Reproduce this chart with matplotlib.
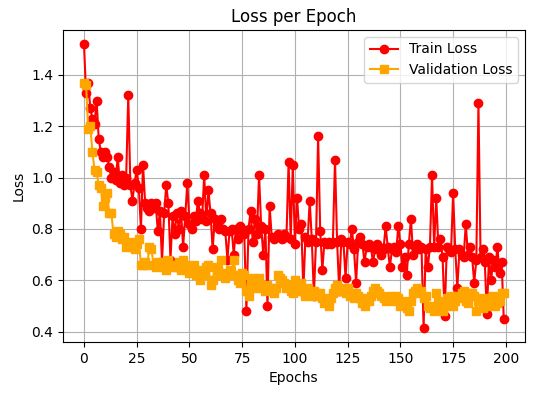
import matplotlib
matplotlib.use("Agg")
import matplotlib.pyplot as plt

epochs = list(range(200))

train_loss = [
    1.52, 1.33, 1.37, 1.27, 1.23, 1.21, 1.30, 1.15, 1.10, 1.08,
    1.10, 1.08, 1.04, 1.00, 1.02, 0.99, 1.08, 0.98, 1.01, 0.97,
    1.00, 1.32, 0.97, 0.91, 0.98, 1.03, 0.96, 0.80, 1.05, 0.90,
    0.88, 0.87, 0.90, 0.88, 0.90, 0.79, 0.87, 0.67, 0.86, 0.97,
    0.90, 0.68, 0.85, 0.78, 0.86, 0.80, 0.87, 0.73, 0.85, 0.98,
    0.82, 0.80, 0.85, 0.83, 0.91, 0.86, 0.84, 1.01, 0.83, 0.95,
    0.86, 0.72, 0.84, 0.81, 0.80, 0.84, 0.80, 0.79, 0.68, 0.79,
    0.80, 0.70, 0.80, 0.76, 0.81, 0.80, 0.78, 0.48, 0.80, 0.87,
    0.75, 0.84, 0.78, 1.01, 0.81, 0.70, 0.80, 0.50, 0.89, 0.77,
    0.76, 0.77, 0.78, 0.77, 0.76, 0.78, 0.77, 1.06, 0.76, 1.05,
    0.74, 0.92, 0.80, 0.82, 0.56, 0.77, 0.75, 0.91, 0.76, 0.54,
    0.75, 1.16, 0.79, 0.64, 0.75, 0.74, 0.75, 0.74, 0.75, 1.07,
    0.75, 0.56, 0.76, 0.75, 0.61, 0.75, 0.74, 0.80, 0.72, 0.59,
    0.75, 0.77, 0.74, 0.67, 0.73, 0.74, 0.73, 0.67, 0.72, 0.74,
    0.73, 0.70, 0.72, 0.81, 0.73, 0.65, 0.72, 0.73, 0.71, 0.81,
    0.74, 0.65, 0.69, 0.62, 0.74, 0.84, 0.70, 0.73, 0.74, 0.72,
    0.73, 0.415, 0.72, 0.65, 0.73, 1.01, 0.73, 0.92, 0.73, 0.76,
    0.69, 0.46, 0.73, 0.72, 0.71, 0.94, 0.72, 0.57, 0.72, 0.70,
    0.69, 0.82, 0.70, 0.73, 0.69, 0.59, 0.68, 1.29, 0.69, 0.72,
    0.67, 0.47, 0.69, 0.60, 0.68, 0.65, 0.73, 0.63, 0.67, 0.45,
]

val_loss = [
    1.37, 1.36, 1.19, 1.20, 1.10, 1.03, 1.02, 0.97, 0.96, 0.89,
    0.92, 0.94, 0.86, 0.86, 0.78, 0.77, 0.79, 0.78, 0.76, 0.77,
    0.73, 0.74, 0.75, 0.73, 0.72, 0.74, 0.76, 0.66, 0.66, 0.67,
    0.66, 0.73, 0.72, 0.66, 0.65, 0.67, 0.66, 0.67, 0.65, 0.64,
    0.68, 0.66, 0.65, 0.66, 0.65, 0.67, 0.64, 0.68, 0.66, 0.65,
    0.63, 0.64, 0.66, 0.62, 0.64, 0.60, 0.63, 0.62, 0.65, 0.66,
    0.58, 0.60, 0.65, 0.64, 0.62, 0.68, 0.62, 0.61, 0.63, 0.64,
    0.62, 0.68, 0.62, 0.60, 0.59, 0.63, 0.62, 0.56, 0.54, 0.59,
    0.61, 0.57, 0.60, 0.61, 0.58, 0.57, 0.56, 0.58, 0.57, 0.56,
    0.55, 0.57, 0.62, 0.61, 0.60, 0.59, 0.57, 0.58, 0.56, 0.55,
    0.60, 0.57, 0.56, 0.59, 0.56, 0.54, 0.57, 0.55, 0.54, 0.56,
    0.55, 0.54, 0.55, 0.53, 0.51, 0.52, 0.50, 0.53, 0.55, 0.57,
    0.58, 0.57, 0.56, 0.56, 0.55, 0.57, 0.54, 0.55, 0.53, 0.55,
    0.54, 0.53, 0.51, 0.50, 0.53, 0.52, 0.54, 0.56, 0.57, 0.56,
    0.55, 0.54, 0.53, 0.52, 0.53, 0.54, 0.53, 0.52, 0.54, 0.53,
    0.50, 0.52, 0.51, 0.49, 0.48, 0.52, 0.55, 0.56, 0.57, 0.55,
    0.56, 0.53, 0.54, 0.50, 0.49, 0.50, 0.48, 0.55, 0.52, 0.49,
    0.48, 0.50, 0.53, 0.52, 0.54, 0.50, 0.52, 0.54, 0.53, 0.55,
    0.56, 0.52, 0.51, 0.55, 0.55, 0.54, 0.48, 0.52, 0.53, 0.49,
    0.51, 0.50, 0.53, 0.52, 0.54, 0.50, 0.51, 0.52, 0.55, 0.55,
]

fig, ax = plt.subplots(figsize=(5.36, 3.93), dpi=100)
fig.subplots_adjust(left=0.1175, right=0.979, top=0.924, bottom=0.13)

ax.plot(epochs, train_loss, color="red", marker="o", label="Train Loss")
ax.plot(epochs, val_loss, color="orange", marker="s", label="Validation Loss")
ax.set_title("Loss per Epoch")
ax.set_xlabel("Epochs")
ax.set_ylabel("Loss")
ax.grid(True)
ax.legend(loc="upper right")

fig.savefig("out.png", dpi=100)
